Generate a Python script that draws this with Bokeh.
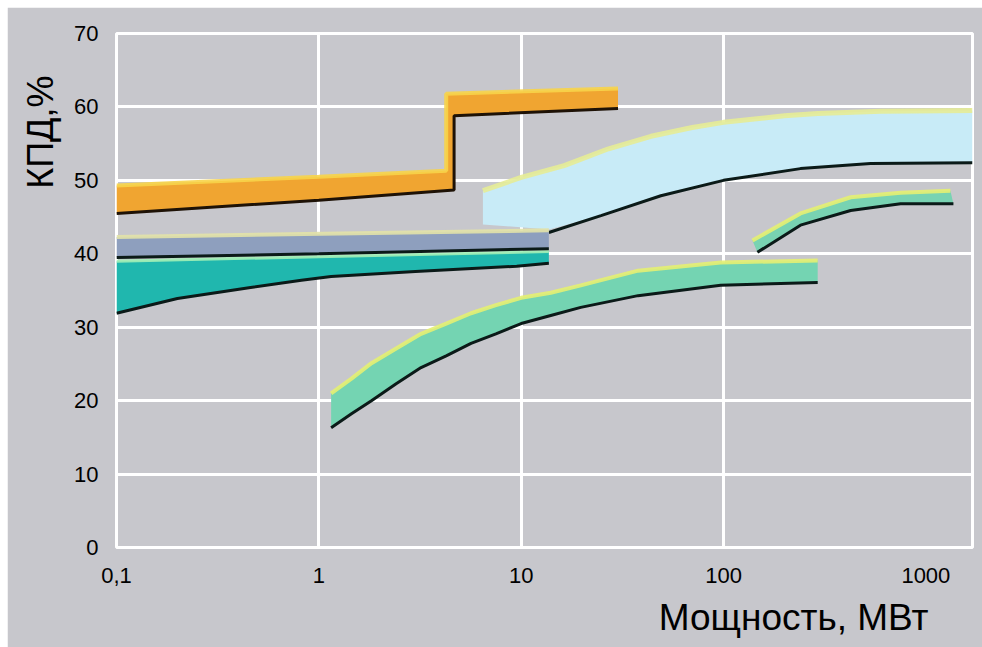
from bokeh.plotting import figure
from bokeh.models import Range1d, FixedTicker, CustomJSTickFormatter, Title
from bokeh.embed import file_html
from bokeh.resources import INLINE

# ---------------- data ----------------
x_ticks = [0.1, 1, 10, 100, 1000]
x_grid = [0.1, 1, 10, 100]
y_ticks = [0, 10, 20, 30, 40, 50, 60, 70]

# orange band with a step (bottom edge = black line)
orange_line_x = [0.1, 1.0, 4.66, 4.66, 30.1]
orange_line_y = [45.5, 47.3, 48.7, 58.8, 59.8]
orange_top_x = [0.1, 1.0, 4.26, 4.26, 30.1]
orange_top_y = [49.3, 50.5, 51.3, 61.8, 62.5]

# large light-blue band
lb_top_x = [6.47, 10, 16.3, 27, 43.8, 70, 100, 200, 292, 600, 1700]
lb_top_y = [48.6, 50.4, 52.0, 54.3, 56.0, 57.2, 57.9, 58.8, 59.1, 59.4, 59.5]
lb_left_x = [6.47, 13.7]
lb_left_y = [44.0, 43.3]
lb_line_x = [13.7, 24.8, 49, 100, 240, 533, 1700]
lb_line_y = [42.9, 45.2, 47.9, 50.0, 51.6, 52.3, 52.4]

# grey-blue band
gb_top_x = [0.1, 13.7]
gb_top_y = [42.3, 43.2]
gb_line_x = [0.1, 1.0, 13.7]
gb_line_y = [39.5, 40.0, 40.7]

# teal band
teal_top_x = [0.1, 1.0, 13.7]
teal_top_y = [39.0, 39.6, 40.3]
teal_line_x = [0.1, 0.2, 0.46, 0.82, 1.15, 3.0, 9.5, 13.7]
teal_line_y = [31.9, 33.9, 35.4, 36.4, 36.9, 37.6, 38.3, 38.7]

# middle-lower green band
mid_x = [1.15, 1.45, 1.82, 2.41, 3.2, 4.26, 5.65, 7.5, 10, 14.0, 19.7, 37.8, 96.8, 292]
mid_top_y = [21.0, 23.0, 25.1, 27.1, 29.1, 30.5, 31.9, 33.0, 34.0, 34.7, 35.7, 37.7, 38.8, 39.1]
mid_line_y = [16.3, 18.2, 20.0, 22.3, 24.5, 26.1, 27.8, 29.1, 30.5, 31.6, 32.7, 34.3, 35.7, 36.1]

# small right green band
rb_top_x = [139, 240, 425, 750, 1322]
rb_top_y = [41.8, 45.5, 47.7, 48.3, 48.6]
rb_line_x = [147, 240, 425, 750, 1368]
rb_line_y = [40.2, 43.9, 45.9, 46.8, 46.8]

# ---------------- styling ----------------
BG = "#c7c7cc"
FONT = "Liberation Sans"
BLACK = "#0b1a18"

p = figure(width=975, height=640, x_axis_type="log",
           x_range=Range1d(0.1, 1700), y_range=Range1d(0, 70),
           output_backend="svg", toolbar_location=None,
           min_border_left=108, min_border_right=10,
           min_border_top=26, min_border_bottom=100,
           margin=(7, 0, 0, 7))
p.background_fill_color = BG
p.border_fill_color = BG
p.outline_line_color = "white"
p.outline_line_width = 3

p.xgrid.ticker = FixedTicker(ticks=x_grid)
p.ygrid.ticker = FixedTicker(ticks=y_ticks)
for g in (p.xgrid, p.ygrid):
    g.grid_line_color = "white"
    g.grid_line_width = 3
    g.grid_line_alpha = 1.0

p.xaxis.ticker = FixedTicker(ticks=x_ticks)
p.xaxis.formatter = CustomJSTickFormatter(
    code="return tick < 1 ? String(tick).replace('.', ',') : String(Math.round(tick));")
p.yaxis.ticker = FixedTicker(ticks=y_ticks)
for ax in (p.xaxis[0], p.yaxis[0]):
    ax.axis_line_color = None
    ax.major_tick_line_color = None
    ax.minor_tick_line_color = None
    ax.major_label_text_font = FONT
    ax.major_label_text_font_size = "22px"
    ax.major_label_text_color = "black"
p.xaxis.major_label_standoff = 14
p.yaxis.major_label_standoff = 12


def band(line_x, line_y, top_x, top_y, fill, top_color, top_w=4):
    xs = list(line_x) + list(top_x)[::-1]
    ys = list(line_y) + list(top_y)[::-1]
    p.patch(xs, ys, fill_color=fill, line_color=None)
    p.line(top_x, top_y, line_color=top_color, line_width=top_w, line_alpha=0.9)


# light blue band
band(lb_left_x + lb_line_x[1:], lb_left_y + lb_line_y[1:], lb_top_x, lb_top_y,
     "#c8ebf7", "#e6ec96", 5)
p.line(lb_line_x, lb_line_y, line_color=BLACK, line_width=3)

# grey-blue band
band(gb_line_x, gb_line_y, gb_top_x, gb_top_y, "#8e9fbe", "#e2e2a8", 4)
# teal band
band(teal_line_x, teal_line_y, teal_top_x, teal_top_y, "#20b7ae", "#a2efb6", 3)
p.line(gb_line_x, gb_line_y, line_color=BLACK, line_width=3)
p.line(teal_line_x, teal_line_y, line_color=BLACK, line_width=3)

# orange band
band(orange_line_x, orange_line_y, orange_top_x, orange_top_y, "#f0a531", "#f7d44a", 4)
p.line(orange_line_x, orange_line_y, line_color="#1e1206", line_width=3)

# middle-lower green band
band(mid_x, mid_line_y, mid_x, mid_top_y, "#74d4b2", "#e4f072", 4)
p.line(mid_x, mid_line_y, line_color=BLACK, line_width=3)

# right small green band
band(rb_line_x, rb_line_y, rb_top_x, rb_top_y, "#78d3b2", "#e4f072", 4)
p.line(rb_line_x, rb_line_y, line_color=BLACK, line_width=3)

# axis titles
p.add_layout(Title(text="КПД,%", align="right", offset=42, standoff=21,
                   text_font=FONT, text_font_size="36px", text_font_style="normal",
                   text_color="black"), "left")
p.add_layout(Title(text="Мощность, МВт", align="right", offset=44, standoff=19,
                   text_font=FONT, text_font_size="37px", text_font_style="normal",
                   text_color="black"), "below")

open("out.html", "w").write(file_html(p, INLINE))
